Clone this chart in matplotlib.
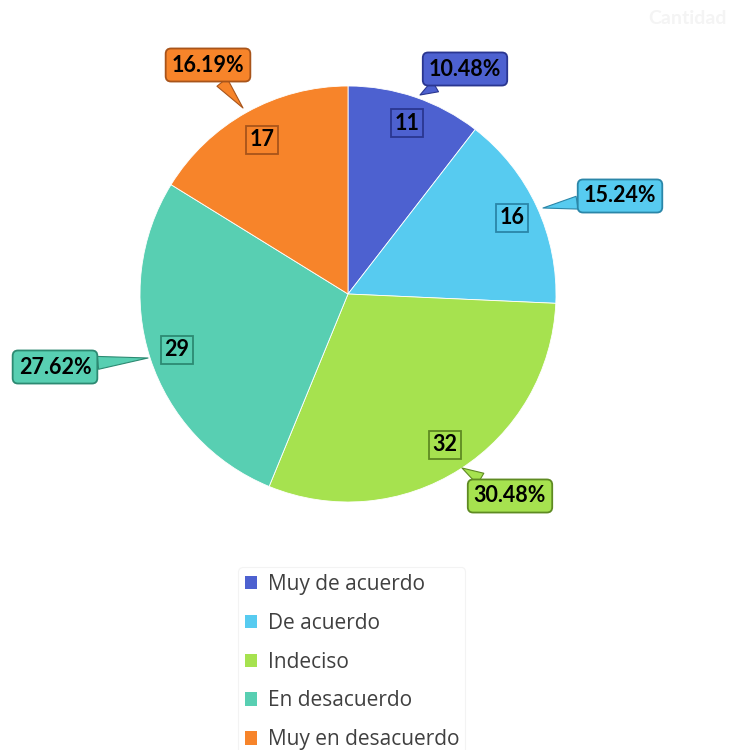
import matplotlib
matplotlib.use("Agg")
import matplotlib.pyplot as plt
from matplotlib.patches import Patch

categories = ["Muy de acuerdo", "De acuerdo", "Indeciso", "En desacuerdo", "Muy en desacuerdo"]
values = [11, 16, 32, 29, 17]
percent_labels = ["10.48%", "15.24%", "30.48%", "27.62%", "16.19%"]
colors = ["#4d61d0", "#57cbf0", "#a6e24f", "#58cfb2", "#f7842a"]
edge_colors = ["#2a3690", "#2a86a8", "#5e8a22", "#2c8a72", "#a8541a"]
title = "Cantidad"

W, H = 738, 750
fig = plt.figure(figsize=(W / 100, H / 100), dpi=100)
fig.patch.set_facecolor("white")

cx, cy, half = 348, 294, 230
ax = fig.add_axes([(cx - half) / W, (H - cy - half) / H, 2 * half / W, 2 * half / H])

R = 208 / half
wedges, _ = ax.pie(values, colors=colors, startangle=90, counterclock=False,
                   radius=R, wedgeprops=dict(edgecolor="white", linewidth=0.6))
ax.set_xlim(-1, 1)
ax.set_ylim(-1, 1)
ax.set_aspect("equal")
ax.axis("off")

def px(x, y):
    return ((x - cx) / half, (cy - y) / half)

value_pos = [(407, 123), (512, 218), (445, 445), (177, 350), (262, 140)]
pct_pos = [(465, 69), (620, 196), (510, 496), (55, 367), (208, 65)]
tip_pos = [(420, 95), (543, 208), (462, 468), (148, 358), (243, 108)]

for i in range(len(values)):
    vx, vy = px(*value_pos[i])
    ax.text(vx, vy, str(values[i]), ha="center", va="center", fontsize=15.5,
            fontweight="bold", family="Lato", color="black",
            bbox=dict(boxstyle="square,pad=0.18", facecolor=colors[i],
                      edgecolor=edge_colors[i], linewidth=1.3))
    tx, ty = px(*pct_pos[i])
    sx, sy = px(*tip_pos[i])
    ax.annotate(percent_labels[i], xy=(sx, sy), xytext=(tx, ty),
                ha="center", va="center", fontsize=15.5, fontweight="bold",
                family="Lato", color="black",
                bbox=dict(boxstyle="round,pad=0.28,rounding_size=0.25",
                          facecolor=colors[i], edgecolor=edge_colors[i], linewidth=1.3),
                arrowprops=dict(arrowstyle="wedge,tail_width=0.6,shrink_factor=0.5",
                                facecolor=colors[i], edgecolor=edge_colors[i],
                                linewidth=0.8, shrinkA=0, shrinkB=0))

fig.text(0.985, 0.975, title, ha="right", va="center", fontsize=14,
         fontweight="bold", color="#f4f4f4", family="Lato")

handles = [Patch(facecolor=c, edgecolor="none") for c in colors]
leg = fig.legend(handles, categories, loc="upper left",
                 bbox_to_anchor=(228 / W, 1 - 557 / H),
                 frameon=True, handlelength=0.6, handleheight=0.6,
                 handletextpad=0.5, labelspacing=0.86, borderpad=0.3,
                 prop=dict(family="Open Sans", size=15))
leg.get_frame().set_edgecolor("#f0f0f0")
leg.get_frame().set_linewidth(0.8)
for t in leg.get_texts():
    t.set_color("#404040")

fig.savefig("out.png", dpi=100, facecolor="white")
